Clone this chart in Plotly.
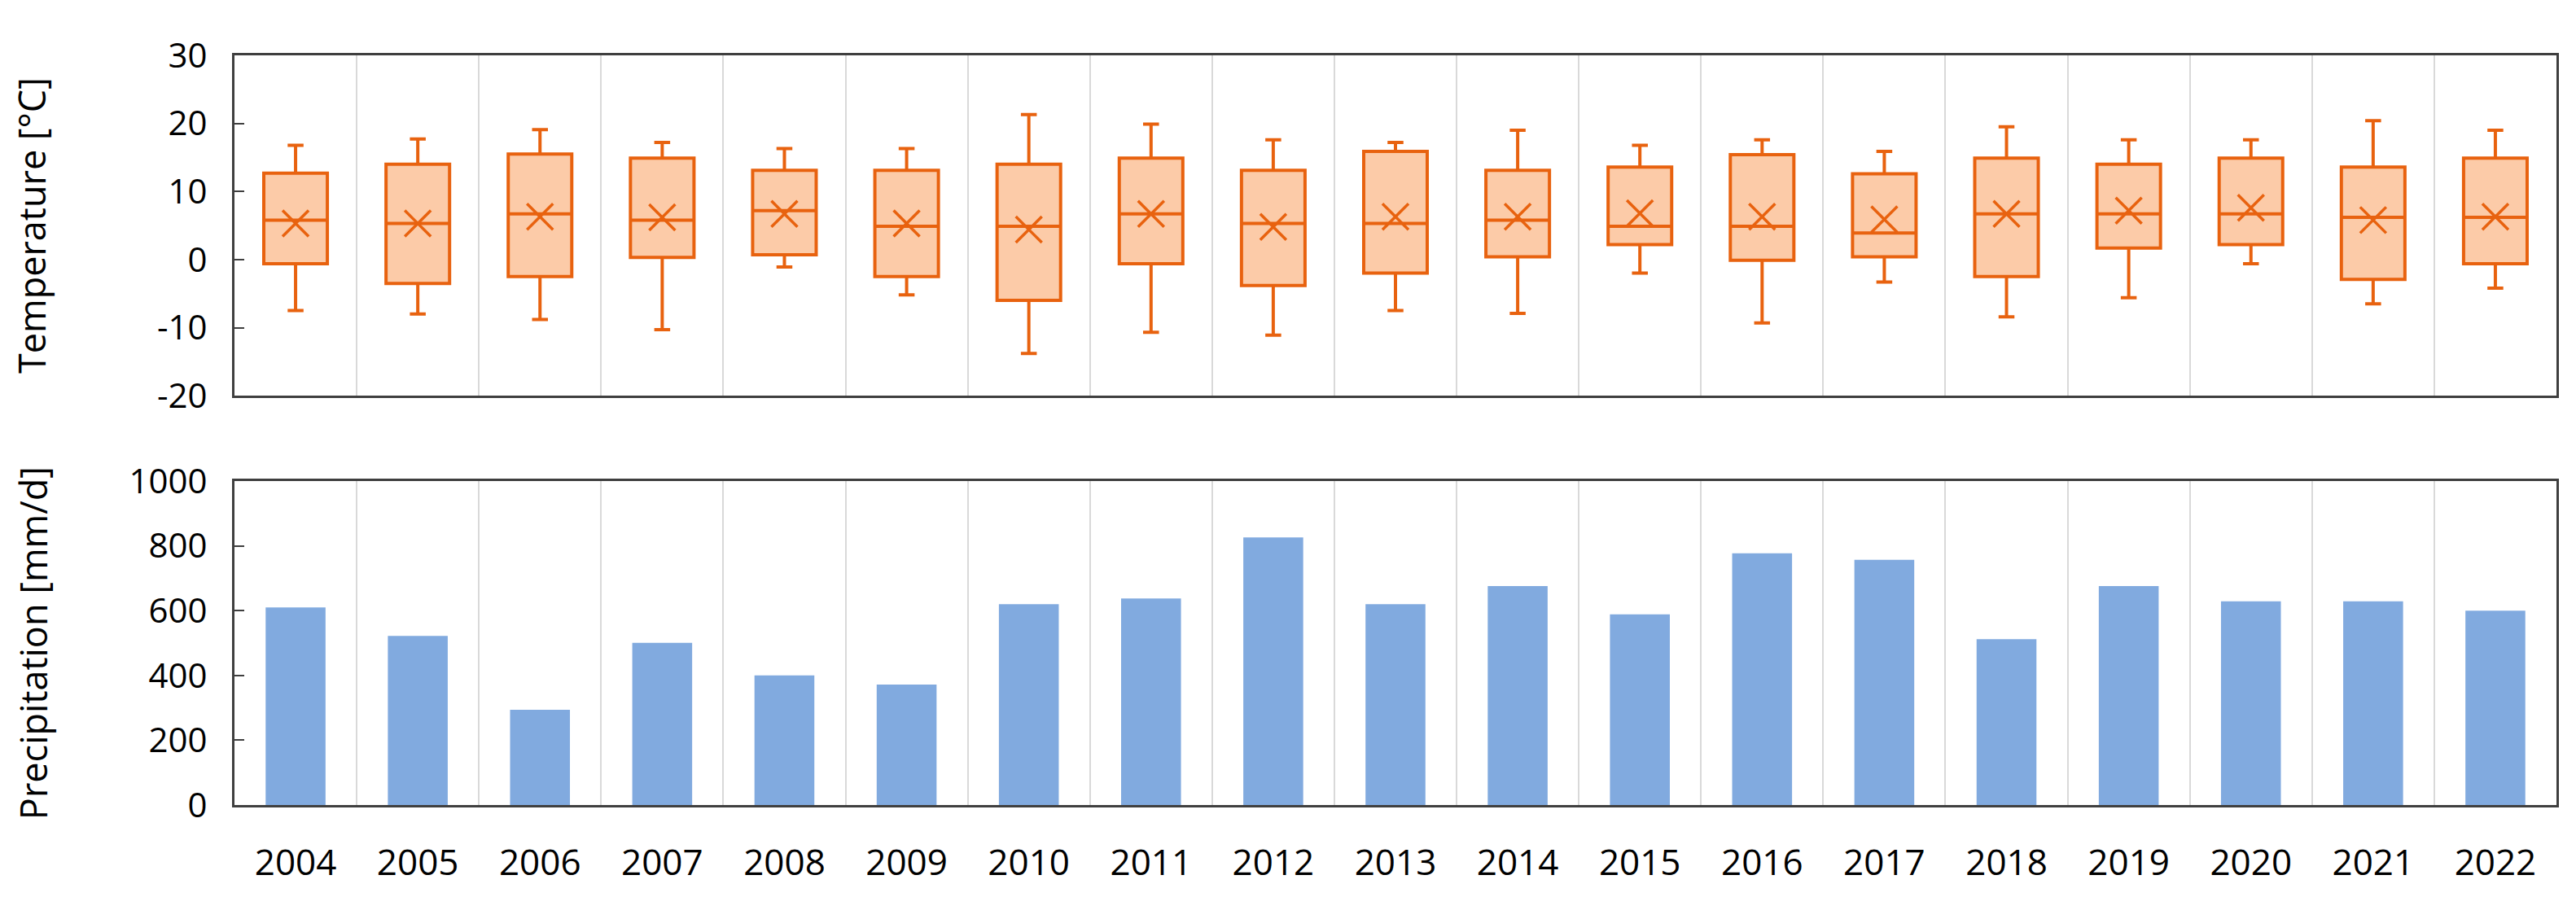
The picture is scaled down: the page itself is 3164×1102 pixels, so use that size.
import plotly.graph_objects as go
from plotly.subplots import make_subplots

years = [str(y) for y in range(2004, 2023)]

t_max = [16.8, 17.7, 19.1, 17.2, 16.3, 16.3, 21.3, 19.9, 17.6, 17.2, 19.0, 16.8, 17.6, 15.9, 19.5, 17.6, 17.6, 20.4, 19.0]
t_q3 = [12.7, 14.0, 15.5, 14.9, 13.1, 13.1, 14.0, 14.9, 13.1, 15.9, 13.1, 13.6, 15.4, 12.6, 14.9, 14.0, 14.9, 13.6, 14.9]
t_median = [5.8, 5.3, 6.7, 5.8, 7.2, 4.9, 4.9, 6.7, 5.3, 5.3, 5.8, 4.9, 4.9, 3.9, 6.7, 6.7, 6.7, 6.2, 6.2]
t_mean = [5.3, 5.3, 6.3, 6.2, 6.7, 5.3, 4.4, 6.7, 4.8, 6.3, 6.3, 6.8, 6.3, 5.9, 6.7, 7.2, 7.6, 5.8, 6.3]
t_q1 = [-0.6, -3.5, -2.5, 0.3, 0.7, -2.5, -6.0, -0.6, -3.8, -2.0, 0.4, 2.2, -0.1, 0.4, -2.5, 1.7, 2.2, -2.9, -0.6]
t_min = [-7.5, -8.0, -8.8, -10.3, -1.1, -5.2, -13.8, -10.7, -11.1, -7.5, -7.9, -2.0, -9.3, -3.3, -8.4, -5.6, -0.6, -6.5, -4.2]

precip = [610, 522, 294, 501, 400, 372, 620, 638, 826, 620, 676, 589, 777, 757, 512, 676, 629, 629, 600]

temp_ticks = [-20, -10, 0, 10, 20, 30]
temp_tick_labels = ["-20", "-10", "0", "10", "20", "30"]
precip_ticks = [0, 200, 400, 600, 800, 1000]

ORANGE = "#E8620F"
PEACH = "#FCCBA8"
BLUE = "#81AADF"
GRID = "#D9D9D9"
AXIS = "#3F3F3F"
FONT = "Open Sans"

fig = make_subplots(rows=2, cols=1, vertical_spacing=0.1)

fig.add_trace(go.Box(
    x=years, q1=t_q1, median=t_median, q3=t_q3,
    lowerfence=t_min, upperfence=t_max,
    boxpoints=False, fillcolor=PEACH,
    line=dict(color=ORANGE, width=4),
    whiskerwidth=0.25, width=0.52, showlegend=False,
), row=1, col=1)

fig.add_trace(go.Scatter(
    x=years, y=t_mean, mode="markers", showlegend=False,
    marker=dict(symbol="x-thin", size=32, color=ORANGE,
                line=dict(color=ORANGE, width=3.5)),
), row=1, col=1)

fig.add_trace(go.Bar(
    x=years, y=precip, marker=dict(color=BLUE, line=dict(width=0)),
    width=0.49, showlegend=False,
), row=2, col=1)

n = len(years)
common_x = dict(
    type="category", categoryorder="array", categoryarray=years,
    range=[-0.5, n - 0.5], autorange=False,
    tickson="boundaries", showgrid=True, gridcolor=GRID,
    gridwidth=2, ticks="", showline=True, mirror=True, linecolor=AXIS,
    linewidth=3, zeroline=False,
)
fig.update_xaxes(**common_x, showticklabels=False, row=1, col=1)
fig.update_xaxes(**common_x, showticklabels=True, ticklabelstandoff=30,
                 tickfont=dict(family=FONT, size=44, color="black"), row=2, col=1)

common_y = dict(
    showgrid=False, zeroline=False, ticks="inside", ticklen=12, tickwidth=2,
    tickcolor=AXIS, showline=True, mirror=True, linecolor=AXIS, linewidth=3,
    tickfont=dict(family=FONT, size=42, color="black"), ticklabelstandoff=22,
)
fig.update_yaxes(**common_y, range=[-20, 30], tickmode="array",
                 tickvals=temp_ticks, ticktext=temp_tick_labels,
                 title=dict(text="Temperature [°C]", standoff=124,
                            font=dict(family=FONT, size=45, color="black")),
                 row=1, col=1)
fig.update_yaxes(**common_y, range=[0, 1000], tickmode="array",
                 tickvals=precip_ticks,
                 title=dict(text="Precipitation [mm/d]", standoff=86,
                            font=dict(family=FONT, size=45, color="black")),
                 row=2, col=1)

fig.update_layout(
    width=3164, height=1102,
    margin=dict(l=280, r=32, t=60, b=121),
    plot_bgcolor="white", paper_bgcolor="white",
    font=dict(family=FONT, color="black"),
)
fig.layout.yaxis.domain = [0.546, 1.0]
fig.layout.yaxis2.domain = [0.0, 0.432]

fig.write_html("out.html")
